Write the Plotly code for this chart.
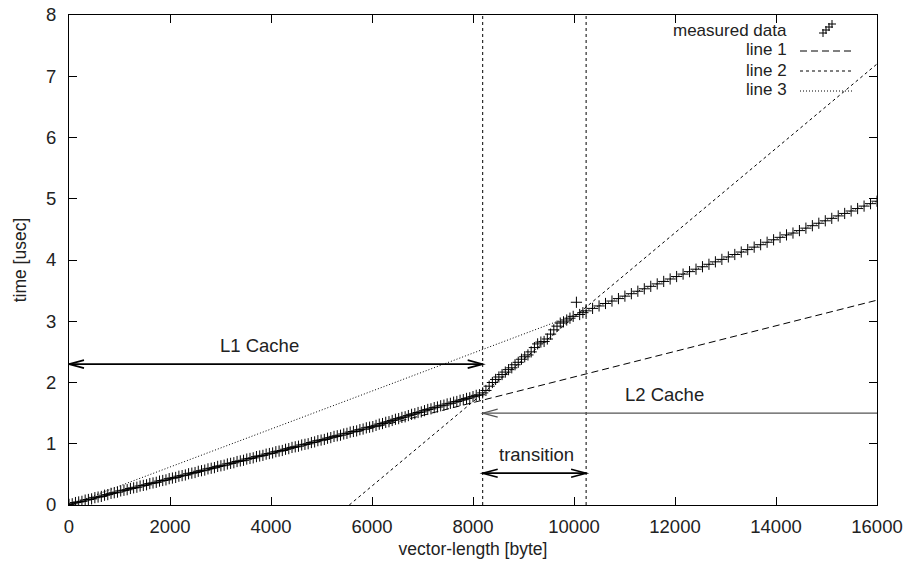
import plotly.graph_objects as go

# ---------------- data ----------------
# L1 region, sampled every 64 bytes (0 .. 8192)
x_l1 = list(range(0, 8193, 64))
y_l1 = [0.01, 0.02, 0.04, 0.05, 0.06, 0.08, 0.09, 0.10, 0.12, 0.13,
        0.14, 0.16, 0.17, 0.19, 0.20, 0.21, 0.23, 0.24, 0.25, 0.27,
        0.28, 0.29, 0.31, 0.32, 0.33, 0.35, 0.36, 0.37, 0.39, 0.40,
        0.41, 0.43, 0.44, 0.45, 0.47, 0.48, 0.49, 0.51, 0.52, 0.53,
        0.55, 0.56, 0.57, 0.59, 0.60, 0.61, 0.63, 0.64, 0.65, 0.67,
        0.68, 0.69, 0.71, 0.72, 0.73, 0.75, 0.76, 0.77, 0.79, 0.80,
        0.81, 0.83, 0.84, 0.85, 0.87, 0.88, 0.89, 0.91, 0.92, 0.94,
        0.95, 0.96, 0.98, 0.99, 1.00, 1.02, 1.03, 1.05, 1.06, 1.07,
        1.09, 1.10, 1.12, 1.13, 1.14, 1.16, 1.17, 1.19, 1.20, 1.21,
        1.23, 1.24, 1.26, 1.27, 1.28, 1.30, 1.32, 1.33, 1.35, 1.36,
        1.38, 1.40, 1.41, 1.43, 1.44, 1.46, 1.48, 1.49, 1.51, 1.52,
        1.54, 1.56, 1.57, 1.59, 1.60, 1.62, 1.63, 1.65, 1.66, 1.68,
        1.69, 1.71, 1.72, 1.74, 1.75, 1.77, 1.79, 1.80, 1.83]

# transition region, every 64 bytes (8256 .. 10240)
x_tr = list(range(8256, 10241, 64))
y_tr = [1.87, 1.94, 2.00, 2.05, 2.09, 2.13, 2.17, 2.21, 2.24, 2.29,
        2.33, 2.38, 2.42, 2.45, 2.50, 2.57, 2.63, 2.66, 2.67, 2.71,
        2.79, 2.86, 2.92, 2.97, 2.99, 3.02, 3.05, 3.08, 3.31, 3.11,
        3.14, 3.17]

# L2 region, every 128 bytes (10368 .. 16000)
x_l2 = list(range(10368, 16001, 128))
y_l2 = [3.21, 3.25, 3.29, 3.33, 3.37, 3.41, 3.45, 3.49, 3.53, 3.57,
        3.61, 3.65, 3.69, 3.73, 3.77, 3.81, 3.85, 3.89, 3.93, 3.97,
        4.01, 4.05, 4.09, 4.13, 4.17, 4.21, 4.25, 4.29, 4.33, 4.37,
        4.41, 4.44, 4.48, 4.52, 4.56, 4.60, 4.64, 4.68, 4.72, 4.76,
        4.80, 4.84, 4.88, 4.92, 4.96]

# fitted lines: y = slope * (x - x0)
line_names = ["line 1", "line 2", "line 3"]
line_slopes = [2.09e-4, 6.89e-4, 3.10e-4]
line_x0 = [0, 5550, 0]
line_dash = ["7px,4px", "3px,3px", "1px,2px"]

x_range = [0, 16000]
y_range = [0, 8]
x_ticks = list(range(0, 16001, 2000))
x_ticklabels = [str(v) for v in x_ticks]
y_ticks = list(range(0, 9))
y_ticklabels = [str(v) for v in y_ticks]

cache_bounds = [8192, 10240]

# annotations: (text, x, y)
labels = [("L1 Cache", 2950, 2.6), ("L2 Cache", 10970, 1.8), ("transition", 8475, 0.82)]
# arrows: (x_start, x_end, y, both_heads, color, width)
arrows = [(0, 8192, 2.3, True, "black", 1.6),
          (16000, 8192, 1.5, False, "#555555", 1.2),
          (8192, 10240, 0.52, True, "black", 1.6)]

# ---------------- figure ----------------
FONT = "Liberation Sans, Arial, Helvetica, sans-serif"
TXT = "#222222"
W, H = 912, 567
ML, MR, MT, MB = 69, 35, 15, 62
PW, PH = W - ML - MR, H - MT - MB


def px_to_paper(px, py):
    return (px - ML) / PW, (H - MB - py) / PH


fig = go.Figure()

fig.add_trace(go.Scatter(
    x=x_l1 + x_tr + x_l2, y=y_l1 + y_tr + y_l2, mode="markers",
    name="measured data", showlegend=False,
    marker=dict(symbol="cross-thin", size=8, color="black",
                line=dict(width=1, color="black")),
))

for name, s, x0, d in zip(line_names, line_slopes, line_x0, line_dash):
    xs = [max(x0, x_range[0]), x_range[1]]
    ys = [s * (xv - x0) for xv in xs]
    fig.add_trace(go.Scatter(x=xs, y=ys, mode="lines", name=name, showlegend=False,
                             line=dict(color="black", width=1, dash=d)))

shapes = []
for b in cache_bounds:
    shapes.append(dict(type="line", xref="x", yref="y", x0=b, x1=b,
                       y0=y_range[0], y1=y_range[1],
                       line=dict(color="black", width=1, dash="3px,3px")))

# arrow heads size in data units (approx 15 px long, 4 px half-width)
hx = 15 * (x_range[1] - x_range[0]) / PW
hy = 4 * (y_range[1] - y_range[0]) / PH
for xs, xe, y, both, col, w in arrows:
    shapes.append(dict(type="line", xref="x", yref="y", x0=xs, x1=xe, y0=y, y1=y,
                       line=dict(color=col, width=w)))
    ends = [(xe, 1 if xe > xs else -1)]
    if both:
        ends.append((xs, 1 if xs > xe else -1))
    for ex, sgn in ends:
        path = "M {a},{b} L {c},{d} L {e},{f}".format(
            a=ex - sgn * hx, b=y + hy, c=ex, d=y, e=ex - sgn * hx, f=y - hy)
        shapes.append(dict(type="path", xref="x", yref="y", path=path,
                           line=dict(color=col, width=w)))

annotations = []
for t, x, y in labels:
    annotations.append(dict(text=t, x=x, y=y, xref="x", yref="y",
                            xanchor="left", yanchor="middle", showarrow=False,
                            font=dict(family=FONT, size=18.5, color=TXT)))

# ---- gnuplot-style key (text right-aligned, sample to its right) ----
key_text_right = 788
key_sample = (800, 853)
key_rows = [30, 50, 70, 90]
key_names = ["measured data"] + line_names
for i, (name, row) in enumerate(zip(key_names, key_rows)):
    tx, ty = px_to_paper(key_text_right, row)
    annotations.append(dict(text=name, x=tx, y=ty, xref="paper", yref="paper",
                            xanchor="right", yanchor="middle", showarrow=False,
                            borderpad=0,
                            font=dict(family=FONT, size=17, color=TXT)))
    if i == 0:
        # small diagonal cluster of '+' symbols
        for k in range(4):
            cx, cy = 823 + 3 * k, row + 3 - 3 * k
            ax, ay = px_to_paper(cx - 4, cy)
            bx, by = px_to_paper(cx + 4, cy)
            vx, vy0 = px_to_paper(cx, cy - 4)
            _, vy1 = px_to_paper(cx, cy + 4)
            shapes.append(dict(type="line", xref="paper", yref="paper",
                               x0=ax, y0=ay, x1=bx, y1=by,
                               line=dict(color="black", width=1)))
            shapes.append(dict(type="line", xref="paper", yref="paper",
                               x0=vx, y0=vy0, x1=vx, y1=vy1,
                               line=dict(color="black", width=1)))
    else:
        ax, ay = px_to_paper(key_sample[0], row + 1)
        bx, _ = px_to_paper(key_sample[1], row + 1)
        shapes.append(dict(type="line", xref="paper", yref="paper",
                           x0=ax, y0=ay, x1=bx, y1=ay,
                           line=dict(color="black", width=1, dash=line_dash[i - 1])))

axis_common = dict(showline=True, linecolor="black", linewidth=1, mirror="allticks",
                   ticks="inside", ticklen=8, tickcolor="black", tickwidth=1,
                   showgrid=False, zeroline=False, automargin=False,
                   ticklabeloverflow="allow",
                   tickfont=dict(family=FONT, size=18.5, color=TXT))

fig.update_layout(
    width=W, height=H,
    margin=dict(l=ML, r=MR, t=MT, b=MB),
    plot_bgcolor="white", paper_bgcolor="white",
    font=dict(family=FONT, size=18, color=TXT),
    xaxis=dict(range=x_range, tickvals=x_ticks, ticktext=x_ticklabels,
               ticklabelstandoff=5,
               title=dict(text="vector-length [byte]", standoff=6,
                          font=dict(family=FONT, size=17.5, color=TXT)),
               **axis_common),
    yaxis=dict(range=y_range, tickvals=y_ticks, ticktext=y_ticklabels,
               ticklabelstandoff=8,
               title=dict(text="time [usec]", standoff=14,
                          font=dict(family=FONT, size=17.5, color=TXT)),
               **axis_common),
    showlegend=False,
    shapes=shapes, annotations=annotations,
)

# remove the default 8px page margin so the figure fills the window exactly
fig.write_html(
    "out.html",
    config={"displayModeBar": False},
    post_script="document.documentElement.style.overflow='hidden';"
                "document.body.style.margin='0';"
                "document.body.style.overflow='hidden';",
)
